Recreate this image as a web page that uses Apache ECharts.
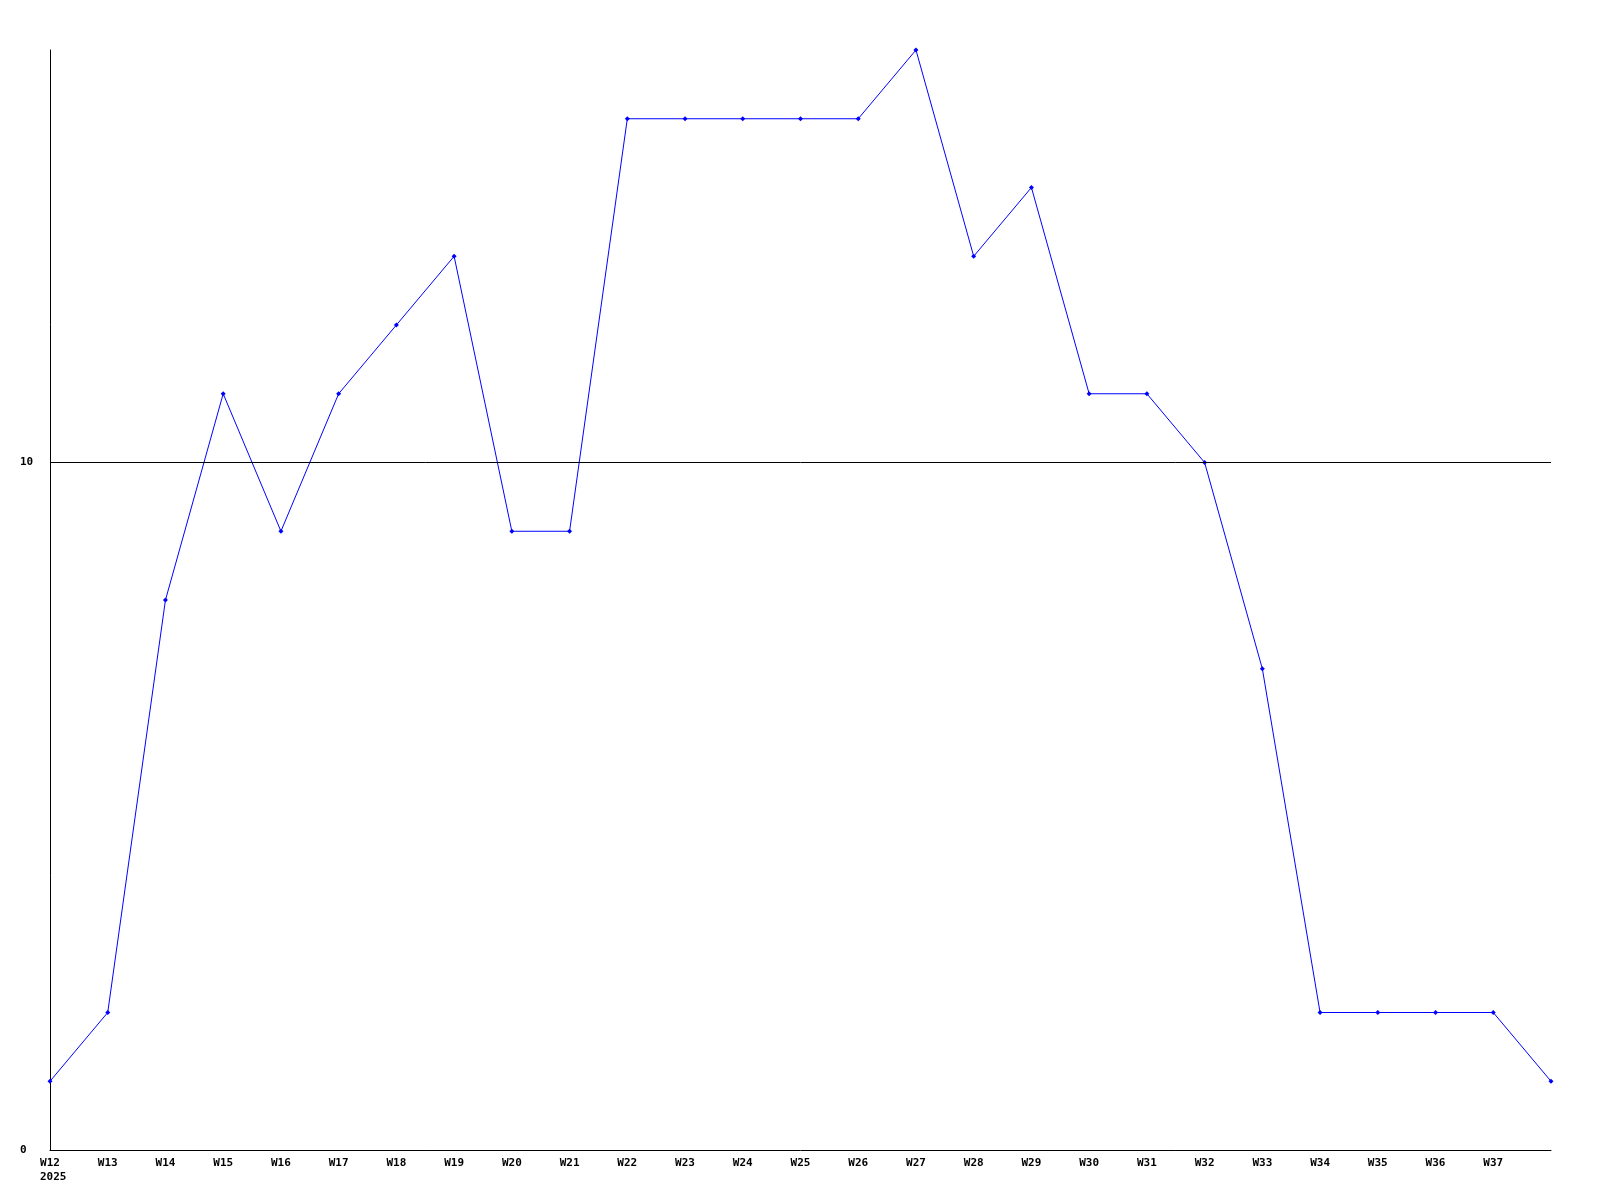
<!DOCTYPE html>
<html>
<head>
<meta charset="utf-8">
<script src="https://cdn.jsdelivr.net/npm/echarts@6/dist/echarts.min.js"></script>
<style>
  html, body { margin: 0; padding: 0; background: #fff; }
  #chart { width: 1600px; height: 1200px; }
</style>
</head>
<body>
<div id="chart"></div>
<script>
// weeks of 2025, last point (W38) has no label
const weeks = ["W12", "W13", "W14", "W15", "W16", "W17", "W18", "W19", "W20", "W21",
  "W22", "W23", "W24", "W25", "W26", "W27", "W28", "W29", "W30", "W31",
  "W32", "W33", "W34", "W35", "W36", "W37", "W38"];
const counts = [1, 2, 8, 11, 9, 11, 12, 13, 9, 9,
  15, 15, 15, 15, 15, 16, 13, 14, 11, 11,
  10, 7, 2, 2, 2, 2, 1];
const yearLabel = "2025";
const refLine = 10;

const chart = echarts.init(document.getElementById("chart"));
const font = "DejaVu Sans Mono";

const option = {
  animation: false,
  backgroundColor: "#fff",
  grid: { left: 50, right: 49, top: 50, bottom: 50 },
  xAxis: {
    type: "category",
    data: weeks,
    boundaryGap: false,
    axisLine: { lineStyle: { color: "#000", width: 1 } },
    axisTick: { show: false },
    axisLabel: {
      color: "#000",
      fontFamily: font,
      fontWeight: "bold",
      fontSize: 11,
      margin: 8,
      interval: 0,
      formatter: (v, i) => (i === weeks.length - 1 ? "" : v),
    },
    splitLine: { show: false },
  },
  yAxis: {
    type: "value",
    min: 0,
    max: 16,
    interval: 10,
    axisLine: { show: true, lineStyle: { color: "#000", width: 1 } },
    axisTick: { show: false },
    axisLabel: {
      color: "#000",
      fontFamily: font,
      fontWeight: "bold",
      fontSize: 11,
      align: "left",
      margin: 30,
      showMaxLabel: false,
    },
    splitLine: { show: false },
  },
  graphic: [
    {
      type: "text",
      left: 40,
      top: 1172,
      style: {
        text: yearLabel,
        fill: "#000",
        font: "bold 11px " + font,
      },
    },
  ],
  series: [
    {
      type: "line",
      data: counts,
      symbol: "diamond",
      symbolSize: 5,
      showSymbol: true,
      lineStyle: { color: "#0000ff", width: 1 },
      itemStyle: { color: "#0000ff" },
      z: 3,
      markLine: {
        silent: true,
        symbol: "none",
        label: { show: false },
        lineStyle: { color: "#000", width: 1, type: "solid" },
        data: [{ yAxis: refLine }],
      },
    },
  ],
};

chart.setOption(option);
</script>
</body>
</html>
